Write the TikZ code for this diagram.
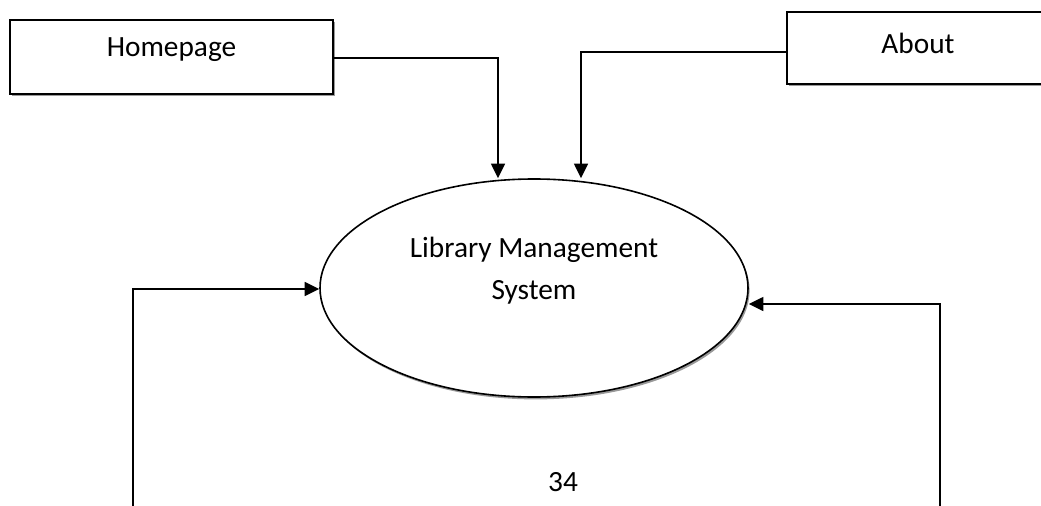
\documentclass[tikz,border=0pt]{standalone}
\usepackage{fontspec}
\setmainfont{Carlito}
\usetikzlibrary{arrows.meta,shapes.geometric,shadows}

\tikzset{
  entity/.style={draw,line width=1.1pt,fill=white,minimum width=242.25pt,minimum height=55.5pt,
    drop shadow={shadow xshift=1.2pt,shadow yshift=-1.8pt,fill=black!40,opacity=1}},
  process/.style={ellipse,draw,line width=1.2pt,fill=white,minimum width=321pt,minimum height=163.5pt,
    drop shadow={shadow xshift=1.2pt,shadow yshift=-1.8pt,fill=black!40,opacity=1}},
  flow/.style={line width=1.3pt,-{Triangle[length=11pt,width=10.5pt]}},
  txt/.style={inner sep=0.75pt,font=\fontsize{22}{26}\selectfont,align=center}
}

\begin{document}
\begin{tikzpicture}[x=0.75pt,y=0.75pt,yscale=-1,xscale=1]
\useasboundingbox (0,0) rectangle (1041,506);

%Shape: Rectangle [id:home]
\node[entity] (home) at (171.5,57) {};
%Shape: Rectangle [id:about]
\node[entity,minimum width=198pt,minimum height=54pt] (about) at (919,48) {};
%Shape: Ellipse [id:sys]
\node[process] (sys) at (534,288) {};

% Text Node
\node[txt] (homelbl) at (171.5,50) {Homepage};
% Text Node
\node[txt] (aboutlbl) at (918,43) {About};
% Text Node
\node[txt,font=\fontsize{22}{31.5}\selectfont] (syslbl) at (534,271) {Library Management\\System};
% Text Node
\node[txt] (pageno) at (563,482) {34};

%Straight Lines
\coordinate (hometurn) at (498,58);
\coordinate (aboutturn) at (581,52);
\coordinate (leftfoot) at (133,506);
\coordinate (leftturn) at (133,289);
\coordinate (rightfoot) at (940,506);
\coordinate (rightturn) at (940,304);
\draw[flow] (home.east |- hometurn) -- (hometurn) -- (sys.north -| hometurn);
\draw[flow] (about.west |- aboutturn) -- (aboutturn) -- (sys.north -| aboutturn);
\draw[flow] (leftfoot) -- (leftturn) -- (sys.west |- leftturn);
\draw[flow] (rightfoot) -- (rightturn) -- (sys.east |- rightturn);

\end{tikzpicture}
\end{document}
